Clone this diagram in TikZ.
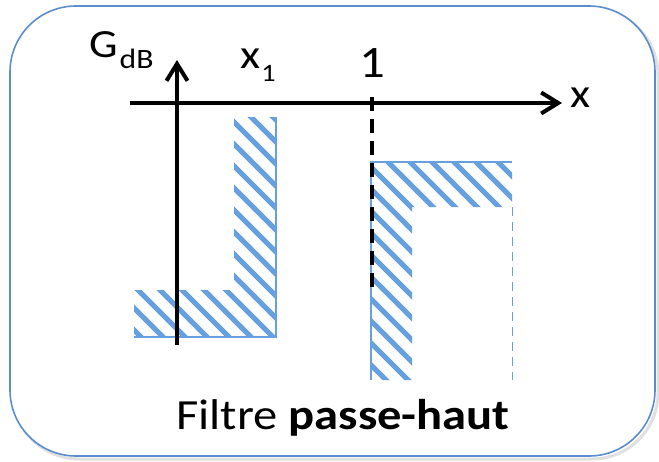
\documentclass[tikz,border=0pt]{standalone}
\usepackage{fontspec}
\setmainfont{Carlito}
\usetikzlibrary{arrows.meta}
\definecolor{frameblue}{RGB}{91,141,206}
\definecolor{hatchblue}{RGB}{102,160,222}
% slightly widened lettering
\newcommand{\widetext}[2]{\scalebox{1.13}[1]{\fontsize{#1}{#1}\selectfont #2}}
\tikzset{
  axis/.style={line width=4pt,-{Straight Barb[length=17pt,width=21pt,line width=4pt]}},
  hatchline/.style={hatchblue,line width=5pt},
  edge/.style={hatchblue,line width=1.6pt},
  lbl/.style={inner sep=0pt},
}
\begin{document}
\begin{tikzpicture}[x=1pt,y=-1pt]
\useasboundingbox (0,0) rectangle (659,461);
% frame with a soft shadow
\draw[rounded corners=66pt,black!12,line width=3pt] (13,9) rectangle (658,459);
\draw[rounded corners=66pt,frameblue,line width=1.6pt,fill=white] (10,6) rectangle (655,456);

% left hatched region (L shape)
\begin{scope}
  \clip (234,117) -- (276,117) -- (276,337) -- (134,337) -- (134,290) -- (234,290) -- cycle;
  \foreach \c in {-240,-218,...,200} \draw[hatchline] (\c,0) -- ++(500,500);
\end{scope}
\draw[edge] (276,117) -- (276,337) -- (134,337);

% right hatched region (inverted L shape)
\begin{scope}
  \clip (371,162) -- (512,162) -- (512,207) -- (412,207) -- (412,380) -- (371,380) -- cycle;
  \foreach \c in {-60,-38,...,360} \draw[hatchline] (\c,0) -- ++(500,500);
\end{scope}
\draw[edge] (371,380) -- (371,162) -- (512,162);
\draw[hatchblue,line width=1pt,dash pattern=on 9pt off 6pt] (512,207) -- (512,380);

% axes
\coordinate (xs) at (130,103);
\coordinate (xe) at (562,103);
\coordinate (ys) at (177,345);
\coordinate (ye) at (177,60);
\draw[axis] (xs) -- (xe);
\draw[axis] (ys) -- (ye);
\coordinate (d1) at (372,97);
\coordinate (d2) at (372,292);
\draw[line width=4.5pt,dash pattern=on 14pt off 8pt] (d1) -- (d2);

% labels
\node[lbl,anchor=base west] (g) at (89,57)
  {\widetext{40}{G}\hspace{2pt}\raisebox{-11pt}{\widetext{28}{dB}}};
\node[lbl,anchor=base west] (x1) at (240,68)
  {\widetext{41}{x}\hspace{1pt}\raisebox{-13pt}{\widetext{25}{1}}};
\node[lbl,anchor=base] (one) at (372,77) {\widetext{45}{1}};
\node[lbl,anchor=base west] (xl) at (570,107) {\widetext{41}{x}};
\node[lbl,anchor=base] (title) at (343,429) {\widetext{43}{Filtre \textbf{passe-haut}}};
\end{tikzpicture}
\end{document}
